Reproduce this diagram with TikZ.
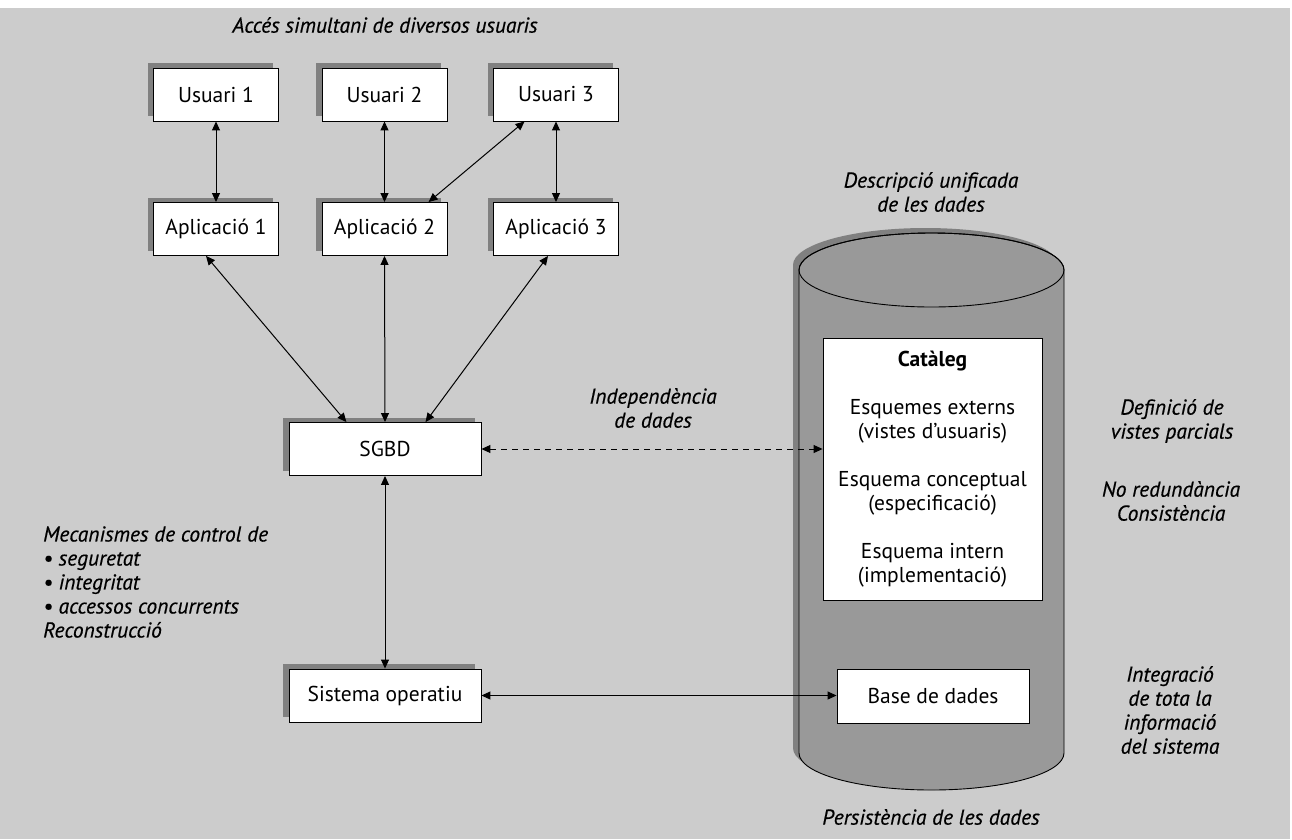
\documentclass[tikz,border=0pt]{standalone}
\usepackage{fontspec}
\setmainfont{PT Sans}
\newfontfamily\lblfont[FakeBold=0.5]{PT Sans}
\usetikzlibrary{arrows.meta,shadows,calc}
\definecolor{bgcol}{HTML}{CCCCCC}
\definecolor{cylcol}{HTML}{999999}
\definecolor{shcol}{HTML}{808080}
\tikzset{
  box/.style={draw=black, line width=0.9pt, fill=white, minimum width=125pt, minimum height=53pt,
    inner sep=0pt, general shadow={fill=shcol, shadow xshift=-6pt, shadow yshift=5pt}},
  widebox/.style={box, minimum width=192pt},
  plainbox/.style={draw=black, line width=0.9pt, fill=white, inner sep=0pt},
  lbl/.style={font=\lblfont\fontsize{21.5}{24}\selectfont\itshape, align=center, inner sep=0pt},
  conn/.style={line width=1pt, {Triangle[length=9pt,width=8pt]}-{Triangle[length=9pt,width=8pt]}},
}
\begin{document}
\begin{tikzpicture}[x=1pt,y=-1pt,font=\fontsize{21.5}{24}\selectfont]
\fill[white] (0,0) rectangle (1292,839);
\fill[bgcol] (0,8) rectangle (1290,839);
\useasboundingbox (0,0) rectangle (1292,839);

% cylinder
\fill[shcol] (793,265) -- (793,748) arc[start angle=180,end angle=360,x radius=132.5pt,y radius=37pt]
  -- (1058,265) arc[start angle=0,end angle=180,x radius=132.5pt,y radius=37pt] -- cycle;
\filldraw[fill=cylcol, draw=black, line width=0.9pt] (799,270) -- (799,753) arc[start angle=180,end angle=360,x radius=132.5pt,y radius=37pt]
  -- (1064,270) arc[start angle=0,end angle=180,x radius=132.5pt,y radius=37pt] -- cycle;
\draw[line width=0.9pt] (931.5,270) ellipse [x radius=132.5pt, y radius=37pt];

% boxes
\node[box] (U1) at (216,94.5) {Usuari 1};
\node[box] (U2) at (384.5,94.5) {Usuari 2};
\node[box] (U3) at (556,94.5) {Usuari 3};
\node[box] (A1) at (216,229) {Aplicació 1};
\node[box] (A2) at (384.5,229) {Aplicació 2};
\node[box] (A3) at (556,229) {Aplicació 3};
\node[widebox] (S) at (385,449) {SGBD};
\node[widebox] (SO) at (385,695.5) {Sistema operatiu};
\node[plainbox, minimum width=192pt, minimum height=54pt] (BD) at (933,696) {Base de dades};
\node[plainbox, minimum width=219pt, minimum height=262pt, align=center] (C) at (932.5,469)
  {\textbf{Catàleg}\\[24pt]Esquemes externs\\(vistes d’usuaris)\\[24pt]Esquema conceptual\\(especificació)\\[24pt]Esquema intern\\(implementació)};

% connectors
\draw[conn] (U1.south) -- (A1.north);
\draw[conn] (U2.south) -- (A2.north);
\draw[conn] (U3.south) -- (A3.north);
\draw[conn] ($(U3.south)!0.5!(U3.south west)$) -- ($(A2.north)!0.7!(A2.north east)$);
\draw[conn] ($(A1.south)+(-10,0)$) -- ($(S.north)!0.4!(S.north west)$);
\draw[conn] (A2.south) -- (S.north);
\draw[conn] ($(A3.south)+(-8,0)$) -- ($(S.north)!0.42!(S.north east)$);
\draw[conn] (S.south) -- (SO.north);
\draw[conn] (SO.east) -- (SO.east -| BD.west);
\draw[conn, dashed, dash pattern=on 6pt off 5pt] (S.east) -- (S.east -| C.west);

% labels
\node[lbl] (t1) at (385,25) {Accés simultani de diversos usuaris};
\node[lbl] (t2) at (931,192) {Descripció unificada\\de les dades};
\node[lbl] (t3) at (653,408) {Independència\\de dades};
\node[lbl] (t4) at (1172,421) {Definició de\\vistes parcials};
\node[lbl] (t5) at (1171,501) {No redundància\\Consistència};
\node[lbl] (t6) at (1170,710) {Integració\\de tota la\\informació\\del sistema};
\node[lbl, align=left, anchor=west] (t7) at (43,582) {Mecanismes de control de\\• seguretat\\• integritat\\• accessos concurrents\\Reconstrucció};
\node[lbl] (t8) at (931,817) {Persistència de les dades};
\end{tikzpicture}
\end{document}
